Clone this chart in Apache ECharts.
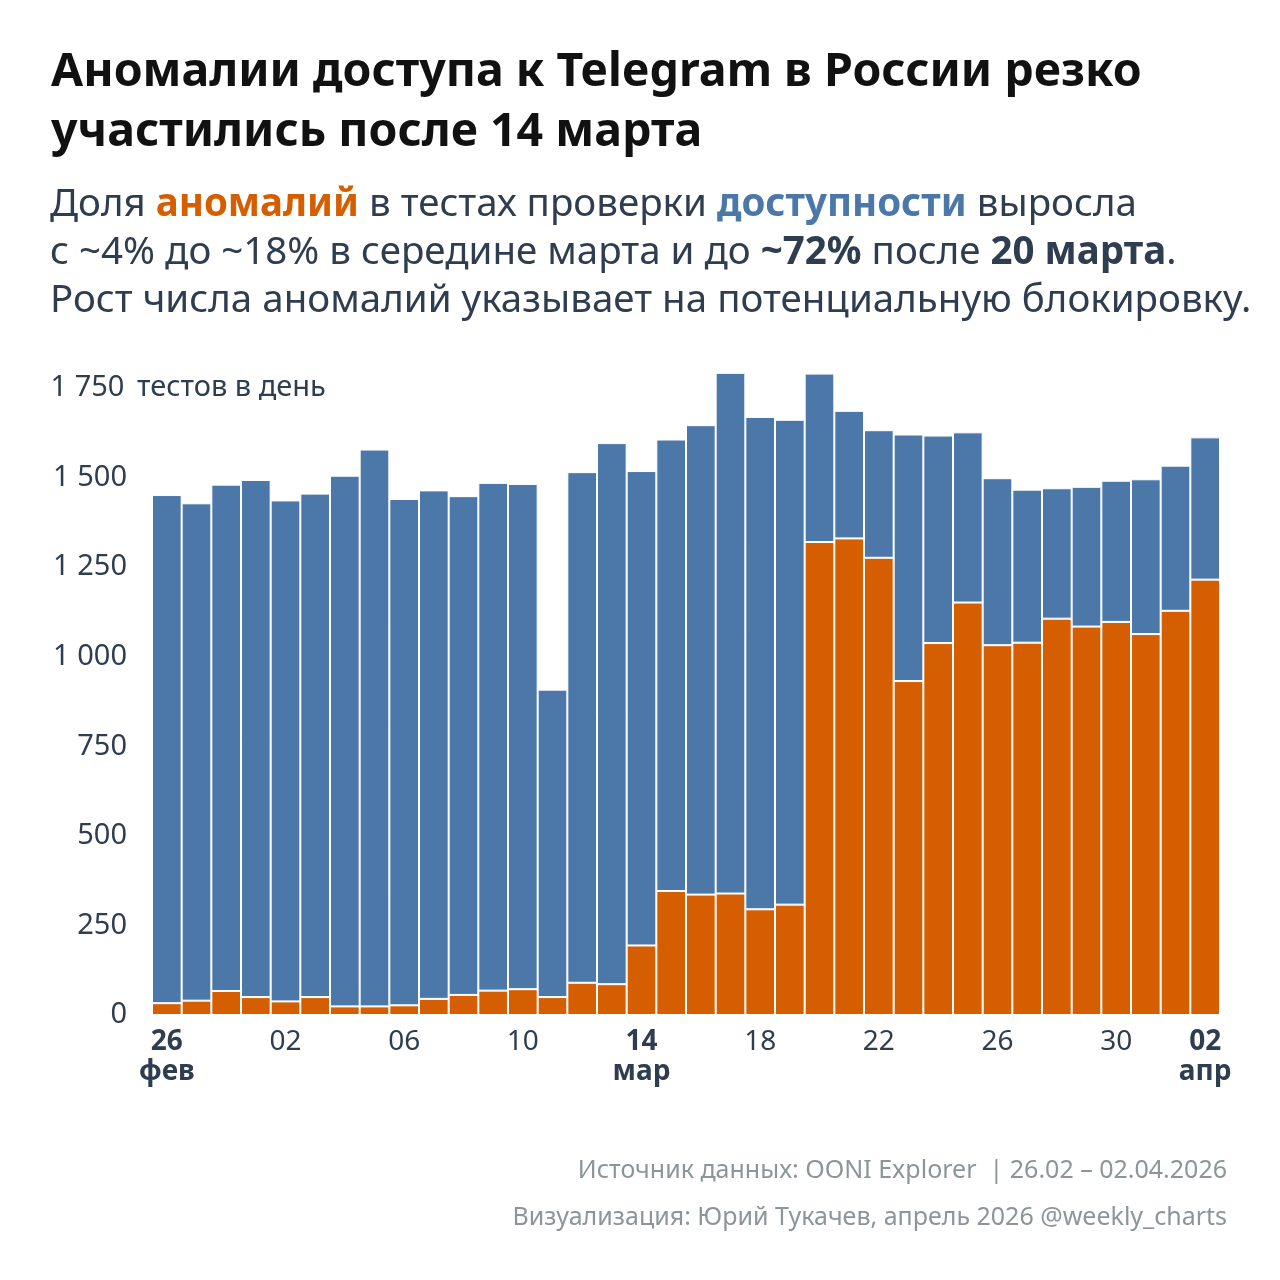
<!DOCTYPE html>
<html>
<head>
<meta charset="utf-8">
<script src="https://cdn.jsdelivr.net/npm/echarts@6/dist/echarts.min.js"></script>
<style>
  html, body { margin: 0; padding: 0; background: #ffffff; }
  #chart { width: 1280px; height: 1280px; }
</style>
</head>
<body>
<div id="chart"></div>
<script>
// one bar per day, 26 Feb .. 02 Apr 2026
const days = [
  '26.02', '27.02', '28.02', '01.03', '02.03', '03.03', '04.03', '05.03', '06.03',
  '07.03', '08.03', '09.03', '10.03', '11.03', '12.03', '13.03', '14.03', '15.03',
  '16.03', '17.03', '18.03', '19.03', '20.03', '21.03', '22.03', '23.03', '24.03',
  '25.03', '26.03', '27.03', '28.03', '29.03', '30.03', '31.03', '01.04', '02.04'
];

// tests with anomalies (orange)
const anomalies = [
  33, 40, 67, 50, 38, 50, 24, 24, 27,
  45, 56, 68, 72, 50, 90, 86, 194, 346,
  336, 339, 295, 308, 1320, 1330, 1276, 932, 1038,
  1151, 1032, 1039, 1106, 1084, 1097, 1063, 1128, 1215
];

// tests without anomalies (blue)
const normal = [
  1418, 1388, 1413, 1443, 1398, 1405, 1481, 1554, 1413,
  1419, 1392, 1417, 1410, 858, 1425, 1510, 1324, 1260,
  1310, 1453, 1374, 1353, 470, 356, 356, 688, 579,
  475, 466, 427, 364, 390, 394, 432, 405, 397
];

// x tick labels: which bars get a label, and the month under the bold ones
const tickIndex = [0, 4, 8, 12, 16, 20, 24, 28, 32, 35];
const monthMarks = { 0: 'фев', 16: 'мар', 35: 'апр' };

const yTicks = [0, 250, 500, 750, 1000, 1250, 1500, 1750];

const BLUE = '#4b78a8';
const ORANGE = '#d45e00';
const INK = '#2e3d4f';
const FONT = '"Noto Sans", sans-serif';

const chart = echarts.init(document.getElementById('chart'), null, { renderer: 'canvas' });

function fmtThousands(v) {
  return String(v).replace(/\B(?=(\d{3})+(?!\d))/g, ' ');
}

const option = {
  backgroundColor: '#ffffff',
  textStyle: { fontFamily: FONT },
  title: [
    {
      text: 'Аномалии доступа к Telegram в России резко\nучастились после 14 марта',
      left: 46,
      top: 38,
      textStyle: {
        fontFamily: FONT,
        fontSize: 46.5,
        fontWeight: 'bold',
        color: '#111111',
        lineHeight: 60
      }
    },
    {
      text: [
        'Доля {o|аномалий} в тестах проверки {b|доступности} выросла',
        'с ~4% до ~18% в середине марта и до {k|~72%} после {k|20 марта}.',
        'Рост числа аномалий указывает на потенциальную блокировку.'
      ].join('\n'),
      left: 45,
      top: 176,
      textStyle: {
        fontFamily: FONT,
        fontSize: 38.5,
        fontWeight: 'normal',
        color: INK,
        lineHeight: 48,
        rich: {
          o: { fontFamily: FONT, fontSize: 38.5, fontWeight: 'bold', color: ORANGE, lineHeight: 48 },
          b: { fontFamily: FONT, fontSize: 38.5, fontWeight: 'bold', color: BLUE, lineHeight: 48 },
          k: { fontFamily: FONT, fontSize: 38.5, fontWeight: 'bold', color: INK, lineHeight: 48 }
        }
      }
    },
    {
      text: 'Источник данных: OONI Explorer  | 26.02 – 02.04.2026',
      right: 48,
      top: 1153,
      textStyle: { fontFamily: FONT, fontSize: 25, fontWeight: 'normal', color: '#8d9598' }
    },
    {
      text: 'Визуализация: Юрий Тукачев, апрель 2026 @weekly_charts',
      right: 48,
      top: 1200,
      textStyle: { fontFamily: FONT, fontSize: 25, fontWeight: 'normal', color: '#8d9598' }
    }
  ],
  grid: { left: 152, right: 60, top: 370, bottom: 265, containLabel: false },
  xAxis: {
    type: 'category',
    data: days,
    boundaryGap: true,
    axisLine: { show: false },
    axisTick: { show: false },
    axisLabel: {
      interval: (idx) => tickIndex.indexOf(idx) !== -1,
      margin: 12,
      formatter: (value, idx) => {
        const d = value.slice(0, 2);
        if (monthMarks[idx]) return '{bd|' + d + '}\n{bm|' + monthMarks[idx] + '}';
        return '{n|' + d + '}';
      },
      rich: {
        n: { fontFamily: FONT, fontSize: 28, color: INK, lineHeight: 30 },
        bd: { fontFamily: FONT, fontSize: 28, fontWeight: 'bold', color: INK, lineHeight: 30 },
        bm: { fontFamily: FONT, fontSize: 28, fontWeight: 'bold', color: INK, lineHeight: 30 }
      }
    }
  },
  yAxis: {
    type: 'value',
    min: 0,
    max: 1800,
    interval: 250,
    splitLine: { show: false },
    axisLine: { show: false },
    axisTick: { show: false },
    axisLabel: {
      showMaxLabel: false,
      align: 'left',
      margin: 104,
      formatter: (v) => {
        if (yTicks.indexOf(v) === -1) return '';
        const s = '{v|' + fmtThousands(v) + '}';
        return v === 1750 ? s + '{u|тестов в день}' : s;
      },
      rich: {
        v: { fontFamily: FONT, fontSize: 29, color: INK, width: 79, align: 'right' },
        u: { fontFamily: FONT, fontSize: 29, color: INK, padding: [0, 0, 0, 10] }
      }
    }
  },
  series: [
    {
      name: 'Аномалии',
      type: 'bar',
      stack: 'tests',
      data: anomalies,
      barCategoryGap: '0%',
      itemStyle: { color: ORANGE, borderColor: '#ffffff', borderWidth: 1 },
      emphasis: { disabled: true }
    },
    {
      name: 'Без аномалий',
      type: 'bar',
      stack: 'tests',
      data: normal,
      barCategoryGap: '0%',
      itemStyle: { color: BLUE, borderColor: '#ffffff', borderWidth: 1 },
      emphasis: { disabled: true }
    }
  ],
  animation: false
};

chart.setOption(option);
</script>
</body>
</html>
